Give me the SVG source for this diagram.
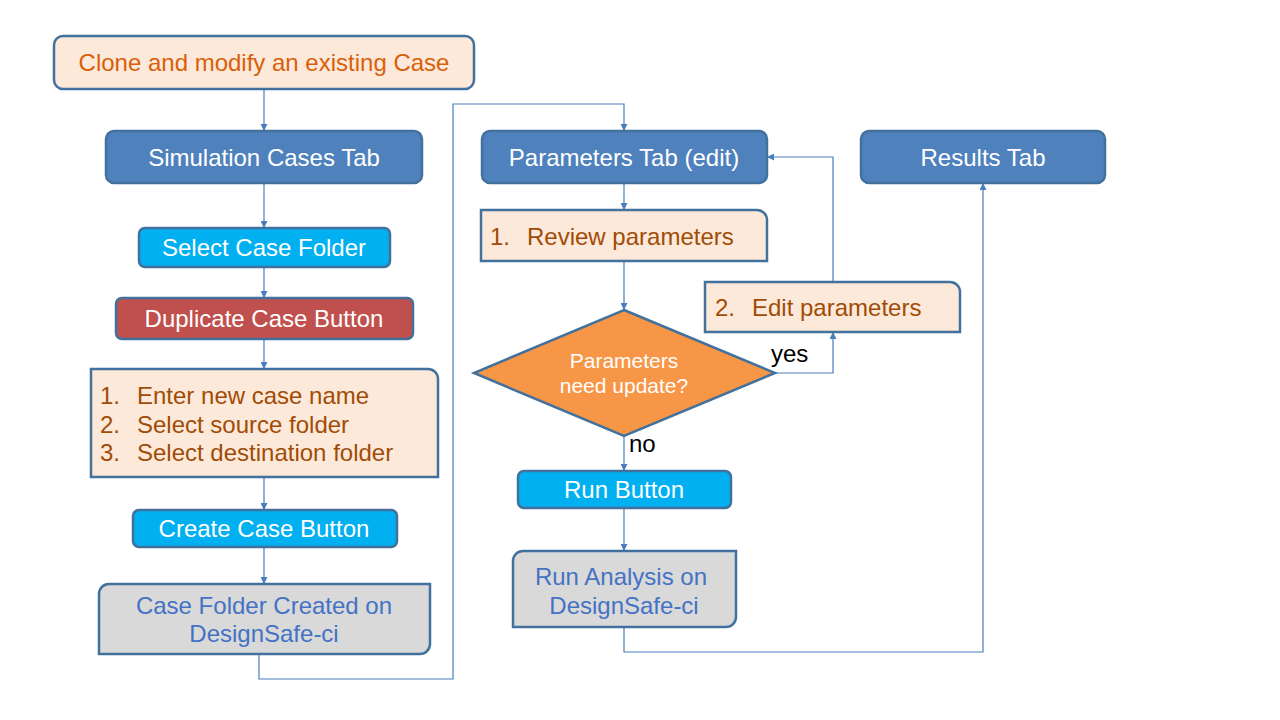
<svg xmlns="http://www.w3.org/2000/svg" width="1280" height="720" viewBox="0 0 1280 720">
<style>
text{font-family:"Liberation Sans",Arial,sans-serif;font-size:24px}
.box{stroke:#41719C;stroke-width:2.5}
.tab{fill:#4F81BD}
.btn{fill:#00B0F0}
.red{fill:#C0504D}
.peach{fill:#FDE9D9}
.gray{fill:#D9D9D9}
.w{fill:#FFFFFF;text-anchor:middle}
.o{fill:#A04C07}
.b{fill:#4472C4;text-anchor:middle}
.d{font-size:21px}
.conn{fill:none;stroke:#4A7EBB;stroke-width:1.2}
.lbl{fill:#000000;font-size:24px}
</style>
<defs>
<marker id="ar" viewBox="0 0 10 10" refX="10" refY="5" markerWidth="7" markerHeight="7" orient="auto" markerUnits="userSpaceOnUse">
<path d="M0,0 L10,5 L0,10 Z" fill="#4A7EBB"/>
</marker>
</defs>
<rect width="1280" height="720" fill="#FFFFFF"/>
<g id="connectors">
<path class="conn" d="M264,89 V131" marker-end="url(#ar)"/>
<path class="conn" d="M264,183 V228" marker-end="url(#ar)"/>
<path class="conn" d="M264,267 V298" marker-end="url(#ar)"/>
<path class="conn" d="M264,339 V369" marker-end="url(#ar)"/>
<path class="conn" d="M264,477 V510" marker-end="url(#ar)"/>
<path class="conn" d="M264,547 V584" marker-end="url(#ar)"/>
<path class="conn" d="M259,654 V679 H453 V104 H624 V131" marker-end="url(#ar)"/>
<path class="conn" d="M624,183 V210" marker-end="url(#ar)"/>
<path class="conn" d="M624,261 V310" marker-end="url(#ar)"/>
<path class="conn" d="M775,373 H833 V332" marker-end="url(#ar)"/>
<path class="conn" d="M833,282 V157 H767" marker-end="url(#ar)"/>
<path class="conn" d="M624,436 V471" marker-end="url(#ar)"/>
<path class="conn" d="M624,508 V551" marker-end="url(#ar)"/>
<path class="conn" d="M624,627 V652 H983 V183" marker-end="url(#ar)"/>
<text class="lbl" x="771" y="362">yes</text>
<text class="lbl" x="629" y="452">no</text>
</g>
<g id="clone">
<rect class="box peach" x="54" y="36" width="420" height="53" rx="9"/>
<text x="264" y="71" text-anchor="middle" fill="#D8600A">Clone and modify an existing Case</text>
</g>
<g id="simcases">
<rect class="box tab" x="106" y="131" width="316" height="52" rx="8"/>
<text class="w" x="264" y="166">Simulation Cases Tab</text>
</g>
<g id="selectfolder">
<rect class="box btn" x="139" y="228" width="251" height="39" rx="6"/>
<text class="w" x="264" y="256">Select Case Folder</text>
</g>
<g id="duplicate">
<rect class="box red" x="116" y="298" width="297" height="41" rx="6"/>
<text class="w" x="264" y="327">Duplicate Case Button</text>
</g>
<g id="steps1">
<path class="box peach" d="M91,369 H428 A10,10 0 0 1 438,379 V477 H91 Z"/>
<text class="o" x="100" y="404">1.</text><text class="o" x="137" y="404">Enter new case name</text>
<text class="o" x="100" y="433">2.</text><text class="o" x="137" y="433">Select source folder</text>
<text class="o" x="100" y="461">3.</text><text class="o" x="137" y="461">Select destination folder</text>
</g>
<g id="createcase">
<rect class="box btn" x="133" y="510" width="264" height="37" rx="6"/>
<text class="w" x="264" y="537">Create Case Button</text>
</g>
<g id="casecreated">
<path class="box gray" d="M109,584 H430 V644 A10,10 0 0 1 420,654 H99 V594 A10,10 0 0 1 109,584 Z"/>
<text class="b" x="264" y="614">Case Folder Created on</text>
<text class="b" x="264" y="642">DesignSafe-ci</text>
</g>
<g id="paramtab">
<rect class="box tab" x="482" y="131" width="285" height="52" rx="8"/>
<text class="w" x="624" y="166">Parameters Tab (edit)</text>
</g>
<g id="review">
<path class="box peach" d="M481,210 H757 A10,10 0 0 1 767,220 V261 H481 Z"/>
<text class="o" x="490" y="245">1.</text><text class="o" x="527" y="245">Review parameters</text>
</g>
<g id="decision">
<path class="box" fill="#F79646" d="M624,310 L775,373 L624,436 L474,373 Z"/>
<text class="w d" x="624" y="368">Parameters</text>
<text class="w d" x="624" y="393">need update?</text>
</g>
<g id="edit">
<path class="box peach" d="M705,282 H950 A10,10 0 0 1 960,292 V332 H705 Z"/>
<text class="o" x="715" y="316">2.</text><text class="o" x="752" y="316">Edit parameters</text>
</g>
<g id="runbutton">
<rect class="box btn" x="518" y="471" width="213" height="37" rx="6"/>
<text class="w" x="624" y="498">Run Button</text>
</g>
<g id="runanalysis">
<path class="box gray" d="M523,551 H736 V617 A10,10 0 0 1 726,627 H513 V561 A10,10 0 0 1 523,551 Z"/>
<text class="b" x="621" y="585">Run Analysis on</text>
<text class="b" x="624" y="614">DesignSafe-ci</text>
</g>
<g id="results">
<rect class="box tab" x="861" y="131" width="244" height="52" rx="8"/>
<text class="w" x="983" y="166">Results Tab</text>
</g>
</svg>
